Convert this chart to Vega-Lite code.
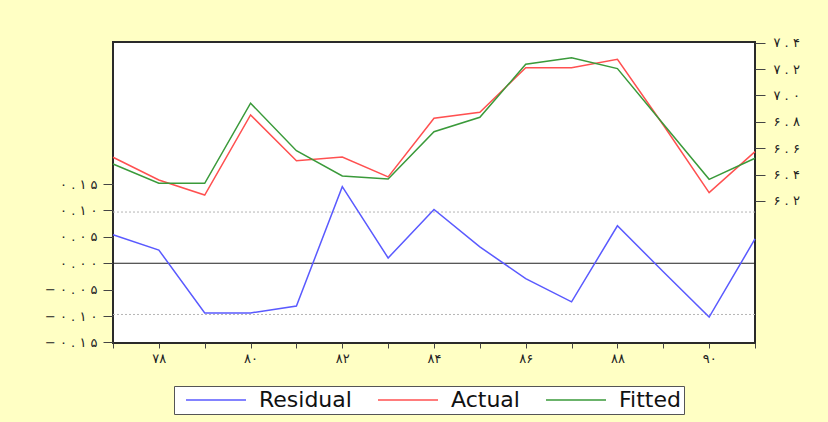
{
  "$schema": "https://vega.github.io/schema/vega-lite/v6.json",
  "width": 642,
  "height": 301,
  "autosize": {"type": "none"},
  "padding": {"left": 113, "top": 42, "right": 73, "bottom": 79},
  "background": "#FFFFC4",
  "config": {
    "view": {"fill": "white", "stroke": "#2a2a2a", "strokeWidth": 2},
    "axis": {"domain": false, "grid": false, "labelFont": "DejaVu Sans", "labelFontSize": 13, "labelColor": "#222", "tickColor": "#444", "tickWidth": 1, "title": null, "labelOverlap": false, "labelFlush": false}
  },
  "datasets": {
    "series": [
      {"year": 1977, "series": "Residual", "value": 0.054},
      {"year": 1978, "series": "Residual", "value": 0.025},
      {"year": 1979, "series": "Residual", "value": -0.094},
      {"year": 1980, "series": "Residual", "value": -0.094},
      {"year": 1981, "series": "Residual", "value": -0.081},
      {"year": 1982, "series": "Residual", "value": 0.145},
      {"year": 1983, "series": "Residual", "value": 0.010},
      {"year": 1984, "series": "Residual", "value": 0.102},
      {"year": 1985, "series": "Residual", "value": 0.031},
      {"year": 1986, "series": "Residual", "value": -0.029},
      {"year": 1987, "series": "Residual", "value": -0.073},
      {"year": 1988, "series": "Residual", "value": 0.071},
      {"year": 1989, "series": "Residual", "value": -0.016},
      {"year": 1990, "series": "Residual", "value": -0.102},
      {"year": 1991, "series": "Residual", "value": 0.046},
      {"year": 1977, "series": "Actual", "value": 6.531},
      {"year": 1978, "series": "Actual", "value": 6.359},
      {"year": 1979, "series": "Actual", "value": 6.245},
      {"year": 1980, "series": "Actual", "value": 6.852},
      {"year": 1981, "series": "Actual", "value": 6.505},
      {"year": 1982, "series": "Actual", "value": 6.533},
      {"year": 1983, "series": "Actual", "value": 6.382},
      {"year": 1984, "series": "Actual", "value": 6.827},
      {"year": 1985, "series": "Actual", "value": 6.872},
      {"year": 1986, "series": "Actual", "value": 7.210},
      {"year": 1987, "series": "Actual", "value": 7.210},
      {"year": 1988, "series": "Actual", "value": 7.274},
      {"year": 1989, "series": "Actual", "value": 6.776},
      {"year": 1990, "series": "Actual", "value": 6.263},
      {"year": 1991, "series": "Actual", "value": 6.574},
      {"year": 1977, "series": "Fitted", "value": 6.480},
      {"year": 1978, "series": "Fitted", "value": 6.334},
      {"year": 1979, "series": "Fitted", "value": 6.334},
      {"year": 1980, "series": "Fitted", "value": 6.941},
      {"year": 1981, "series": "Fitted", "value": 6.581},
      {"year": 1982, "series": "Fitted", "value": 6.389},
      {"year": 1983, "series": "Fitted", "value": 6.367},
      {"year": 1984, "series": "Fitted", "value": 6.725},
      {"year": 1985, "series": "Fitted", "value": 6.834},
      {"year": 1986, "series": "Fitted", "value": 7.236},
      {"year": 1987, "series": "Fitted", "value": 7.286},
      {"year": 1988, "series": "Fitted", "value": 7.203},
      {"year": 1989, "series": "Fitted", "value": 6.784},
      {"year": 1990, "series": "Fitted", "value": 6.364},
      {"year": 1991, "series": "Fitted", "value": 6.524}
    ],
    "refs": [
      {"kind": "se", "value": 0.097},
      {"kind": "se", "value": -0.097},
      {"kind": "zero", "value": 0}
    ]
  },
  "layer": [
    {
      "encoding": {
        "y": {
          "field": "value",
          "type": "quantitative",
          "scale": {"domain": [-0.151, 0.419], "nice": false, "zero": false},
          "axis": {
            "orient": "left",
            "values": [-0.15, -0.1, -0.05, 0, 0.05, 0.1, 0.15],
            "tickSize": 10,
            "labelPadding": 6,
            "labelExpr": "replace(replace(replace(replace(replace(replace(replace(replace(replace(replace(replace(format(datum.value,'.2f'),regexp('(.)(?=.)','g'),'$1 '),regexp('0','g'),'۰'),regexp('1','g'),'۱'),regexp('2','g'),'۲'),regexp('3','g'),'۳'),regexp('4','g'),'۴'),regexp('5','g'),'۵'),regexp('6','g'),'۶'),regexp('7','g'),'۷'),regexp('8','g'),'۸'),regexp('9','g'),'۹')"
          }
        }
      },
      "layer": [
        {
          "data": {"name": "refs"},
          "transform": [{"filter": "datum.kind == 'se'"}],
          "mark": {"type": "rule", "color": "#b5b5b5", "strokeDash": [2, 2], "strokeWidth": 1}
        },
        {
          "data": {"name": "refs"},
          "transform": [{"filter": "datum.kind == 'zero'"}],
          "mark": {"type": "rule", "color": "#222", "strokeWidth": 1}
        },
        {
          "data": {"name": "series"},
          "transform": [{"filter": "datum.series == 'Residual'"}],
          "mark": {"type": "line", "strokeWidth": 1.5},
          "encoding": {
            "x": {
              "field": "year",
              "type": "quantitative",
              "scale": {"domain": [1977, 1991], "nice": false, "zero": false},
              "axis": {
                "values": [1977, 1978, 1979, 1980, 1981, 1982, 1983, 1984, 1985, 1986, 1987, 1988, 1989, 1990, 1991],
                "tickSize": 5,
                "labelPadding": 4,
                "labelExpr": "datum.value % 2 == 0 ? replace(replace(replace(replace(replace(replace(replace(replace(replace(replace(format(datum.value - 1900,'d'),regexp('0','g'),'۰'),regexp('1','g'),'۱'),regexp('2','g'),'۲'),regexp('3','g'),'۳'),regexp('4','g'),'۴'),regexp('5','g'),'۵'),regexp('6','g'),'۶'),regexp('7','g'),'۷'),regexp('8','g'),'۸'),regexp('9','g'),'۹') : ''"
              }
            },
            "color": {
              "field": "series",
              "type": "nominal",
              "scale": {"domain": ["Residual", "Actual", "Fitted"], "range": ["#5a5aff", "#ff5050", "#3a9a3a"]},
              "legend": {"title": null, "orient": "none", "legendX": 61, "legendY": 344, "direction": "horizontal", "strokeColor": "#555", "fillColor": "white", "padding": 3, "clipHeight": 22, "symbolType": "stroke", "symbolSize": 3600, "symbolStrokeWidth": 1.5, "symbolOffset": 8, "labelOffset": 12, "labelFont": "DejaVu Sans", "labelFontSize": 22, "labelColor": "#111", "columnPadding": 17}
            }
          }
        }
      ]
    },
    {
      "data": {"name": "series"},
      "transform": [{"filter": "datum.series != 'Residual'"}],
      "mark": {"type": "line", "strokeWidth": 1.5},
      "encoding": {
        "x": {
          "field": "year",
          "type": "quantitative",
          "scale": {"domain": [1977, 1991], "nice": false, "zero": false},
          "axis": {
            "values": [1977, 1978, 1979, 1980, 1981, 1982, 1983, 1984, 1985, 1986, 1987, 1988, 1989, 1990, 1991],
            "tickSize": 5,
            "labelPadding": 4,
            "labelExpr": "datum.value % 2 == 0 ? replace(replace(replace(replace(replace(replace(replace(replace(replace(replace(format(datum.value - 1900,'d'),regexp('0','g'),'۰'),regexp('1','g'),'۱'),regexp('2','g'),'۲'),regexp('3','g'),'۳'),regexp('4','g'),'۴'),regexp('5','g'),'۵'),regexp('6','g'),'۶'),regexp('7','g'),'۷'),regexp('8','g'),'۸'),regexp('9','g'),'۹') : ''"
          }
        },
        "y": {
          "field": "value",
          "type": "quantitative",
          "scale": {"domain": [5.123, 7.405], "nice": false, "zero": false},
          "axis": {
            "orient": "right",
            "values": [6.2, 6.4, 6.6, 6.8, 7.0, 7.2, 7.4],
            "tickSize": 10,
            "labelPadding": 8,
            "labelExpr": "replace(replace(replace(replace(replace(replace(replace(replace(replace(replace(replace(format(datum.value,'.1f'),regexp('(.)(?=.)','g'),'$1 '),regexp('0','g'),'۰'),regexp('1','g'),'۱'),regexp('2','g'),'۲'),regexp('3','g'),'۳'),regexp('4','g'),'۴'),regexp('5','g'),'۵'),regexp('6','g'),'۶'),regexp('7','g'),'۷'),regexp('8','g'),'۸'),regexp('9','g'),'۹')"
          }
        },
        "color": {
          "field": "series",
          "type": "nominal",
          "scale": {"domain": ["Residual", "Actual", "Fitted"], "range": ["#5a5aff", "#ff5050", "#3a9a3a"]},
          "legend": {"title": null, "orient": "none", "legendX": 61, "legendY": 344, "direction": "horizontal", "strokeColor": "#555", "fillColor": "white", "padding": 3, "clipHeight": 22, "symbolType": "stroke", "symbolSize": 3600, "symbolStrokeWidth": 1.5, "symbolOffset": 8, "labelOffset": 12, "labelFont": "DejaVu Sans", "labelFontSize": 22, "labelColor": "#111", "columnPadding": 17}
        }
      }
    }
  ],
  "resolve": {"scale": {"y": "independent"}}
}
